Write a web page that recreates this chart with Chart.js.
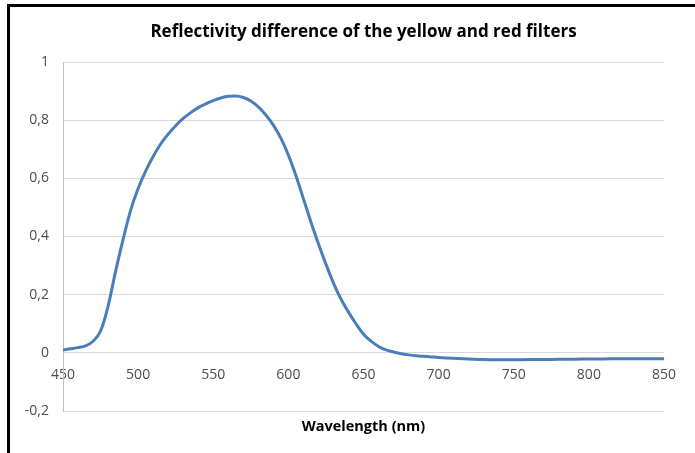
<!DOCTYPE html>
<html>
<head>
<meta charset="utf-8">
<script src="https://cdn.jsdelivr.net/npm/chart.js@4/dist/chart.umd.min.js"></script>
<style>
  html, body { margin: 0; padding: 0; background: #fff; overflow: hidden; }
  #wrap { position: relative; width: 695px; height: 453px; }
  #frame {
    position: absolute; left: 7px; top: 4px; width: 700px; height: 460px;
    border-top: 3px solid #000; border-left: 3px solid #000;
  }
  #chart { position: absolute; left: 0; top: 0; }
</style>
</head>
<body>
<div id="wrap">
  <div id="frame"></div>
  <canvas id="chart" width="695" height="453"></canvas>
</div>
<script>
const wavelengths = [
  450, 455, 460, 465, 470, 475, 480, 485, 490, 495,
  500, 505, 510, 515, 520, 525, 530, 535, 540, 545,
  550, 555, 560, 565, 570, 575, 580, 585, 590, 595,
  600, 605, 610, 615, 620, 625, 630, 635, 640, 645,
  650, 655, 660, 665, 670, 675, 680, 685, 690, 695,
  700, 710, 720, 730, 740, 750, 760, 770, 780, 790,
  800, 810, 820, 830, 840, 850
];
const reflectivityDiff = [
  0.010, 0.014, 0.018, 0.024, 0.040, 0.075, 0.160, 0.280, 0.390, 0.490,
  0.565, 0.625, 0.675, 0.718, 0.752, 0.781, 0.806, 0.826, 0.843, 0.856,
  0.867, 0.876, 0.882, 0.883, 0.878, 0.866, 0.846, 0.818, 0.783, 0.738,
  0.680, 0.610, 0.530, 0.450, 0.375, 0.305, 0.240, 0.185, 0.140, 0.100,
  0.064, 0.040, 0.022, 0.010, 0.003, -0.003, -0.007, -0.010, -0.012, -0.014,
  -0.016, -0.019, -0.021, -0.023, -0.024, -0.024, -0.023, -0.023, -0.022, -0.022,
  -0.021, -0.021, -0.020, -0.020, -0.020, -0.020
];
const xTicks = [450, 500, 550, 600, 650, 700, 750, 800, 850];
const yTicks = [-0.2, 0, 0.2, 0.4, 0.6, 0.8, 1];

const points = wavelengths.map((w, i) => ({ x: w, y: reflectivityDiff[i] }));
const labelFont = { family: "Open Sans", size: 14 };

new Chart(document.getElementById("chart"), {
  type: "line",
  data: {
    datasets: [
      {
        data: points,
        xAxisID: "x",
        yAxisID: "y",
        borderColor: "#4a7ebb",
        borderWidth: 3,
        pointRadius: 0,
        cubicInterpolationMode: "monotone",
        fill: false,
      },
    ],
  },
  options: {
    responsive: false,
    animation: false,
    devicePixelRatio: 1,
    layout: { padding: { left: 0, right: 31, top: 0, bottom: 0 } },
    plugins: {
      legend: { display: false },
      tooltip: { enabled: false },
      title: {
        display: true,
        // centred over the plot rather than the whole canvas
        fullSize: false,
        text: "Reflectivity difference of the yellow and red filters",
        color: "#000",
        font: { family: "Open Sans", size: 17, weight: "bold", lineHeight: 1.2 },
        padding: { top: 22, bottom: 19.6 },
      },
    },
    scales: {
      x: {
        type: "linear",
        position: { y: 0 },
        min: xTicks[0],
        max: xTicks[xTicks.length - 1],
        afterBuildTicks: (scale) => {
          scale.ticks = xTicks.map((v) => ({ value: v }));
        },
        ticks: { color: "#4d4d4d", font: labelFont, padding: 14, maxRotation: 0 },
        grid: { display: false, drawTicks: false },
        border: { display: false },
      },
      xTitle: {
        type: "linear",
        position: "bottom",
        min: xTicks[0],
        max: xTicks[xTicks.length - 1],
        ticks: { display: false },
        grid: { display: false, drawTicks: false },
        border: { display: false },
        title: {
          display: true,
          text: "Wavelength (nm)",
          color: "#000",
          font: { family: "Open Sans", size: 14.5, weight: "bold" },
          padding: { top: 0, bottom: 17 },
        },
        afterFit: (scale) => { scale.height = 42; },
      },
      y: {
        type: "linear",
        position: "left",
        min: yTicks[0],
        max: yTicks[yTicks.length - 1],
        afterBuildTicks: (scale) => {
          scale.ticks = yTicks.map((v) => ({ value: v }));
        },
        ticks: {
          color: "#4d4d4d",
          font: labelFont,
          padding: 14,
          callback: (v) => String(Math.round(v * 10) / 10).replace(".", ","),
        },
        grid: { color: "#d9d9d9", lineWidth: 1, drawTicks: false },
        border: { display: true, color: "#bfbfbf", width: 1 },
        afterFit: (scale) => { scale.width = 63; },
      },
    },
  },
});
</script>
</body>
</html>
